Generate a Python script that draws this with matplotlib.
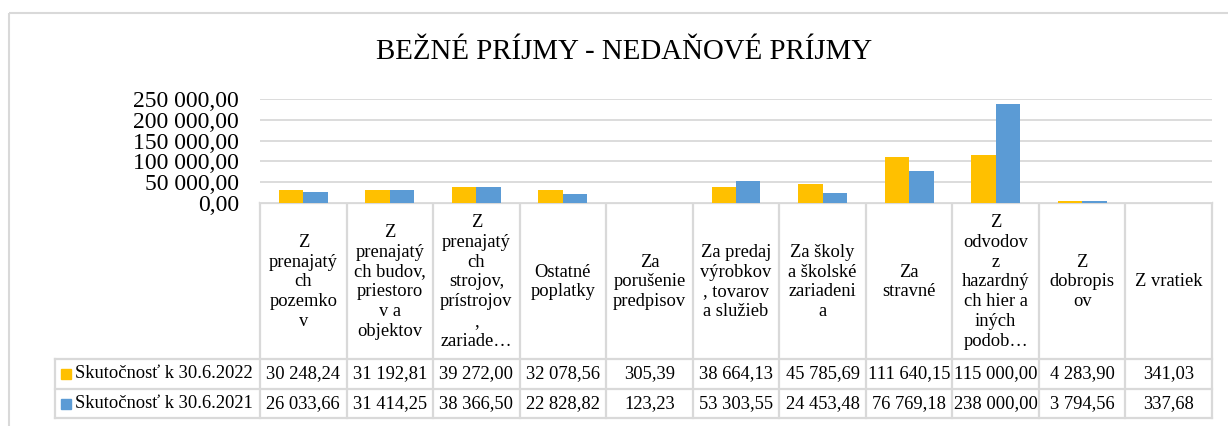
import numpy as np
import matplotlib.pyplot as plt
from matplotlib.patches import Rectangle

plt.rcParams['font.family'] = ['Liberation Serif', 'DejaVu Serif']

title = "BEŽNÉ PRÍJMY - NEDAŇOVÉ PRÍJMY"
categories = [
    "Z\nprenajatý\nch\npozemko\nv",
    "Z\nprenajatý\nch budov,\npriestoro\nv a\nobjektov",
    "Z\nprenajatý\nch\nstrojov,\nprístrojov\n,\nzariade…",
    "Ostatné\npoplatky",
    "Za\nporušenie\npredpisov",
    "Za predaj\nvýrobkov\n, tovarov\na služieb",
    "Za školy\na školské\nzariadeni\na",
    "Za\nstravné",
    "Z\nodvodov\nz\nhazardný\nch hier a\niných\npodob…",
    "Z\ndobropis\nov",
    "Z vratiek",
]
series_names = ["Skutočnosť k 30.6.2022", "Skutočnosť k 30.6.2021"]
values_2022 = [30248.24, 31192.81, 39272.00, 32078.56, 305.39, 38664.13,
               45785.69, 111640.15, 115000.00, 4283.90, 341.03]
values_2021 = [26033.66, 31414.25, 38366.50, 22828.82, 123.23, 53303.55,
               24453.48, 76769.18, 238000.00, 3794.56, 337.68]
y_ticks = [0, 50000, 100000, 150000, 200000, 250000]
colors = ['#FFC000', '#5B9BD5']


def fmt(v):
    return '{:,.2f}'.format(v).replace(',', ' ').replace('.', ',')


W, H = 1228, 426
fig = plt.figure(figsize=(W / 100, H / 100), dpi=100)

# layout in pixels
plot_l, plot_r, plot_t, plot_b = 260, 1212, 99, 203
row1, row2, tab_b = 359, 389, 418
leg_l = 55
grid_c = '#d9d9d9'
n = len(categories)
cw = (plot_r - plot_l) / n

ax = fig.add_axes([plot_l / W, 1 - plot_b / H, (plot_r - plot_l) / W, (plot_b - plot_t) / H])
x = np.arange(n) + 0.5
bw = 0.283
ax.bar(x - bw / 2, values_2022, bw, color=colors[0], zorder=3)
ax.bar(x + bw / 2, values_2021, bw, color=colors[1], zorder=3)
ax.set_xlim(0, n)
ax.set_ylim(0, 250000)
ax.set_yticks(y_ticks)
ax.set_yticklabels([fmt(v) for v in y_ticks], fontsize=17)
ax.set_xticks([])
ax.tick_params(axis='y', length=0, pad=15)
ax.yaxis.grid(True, color=grid_c, lw=1.3)
ax.set_axisbelow(True)
for s in ax.spines.values():
    s.set_visible(False)

# overlay in pixel coordinates for table, border and title
ov = fig.add_axes([0, 0, 1, 1], zorder=-1)
ov.set_xlim(0, W)
ov.set_ylim(H, 0)
ov.axis('off')

ov.add_patch(Rectangle((8.5, 12.5), 1300, 500, fill=False, ec=grid_c, lw=1.5))
ov.text(624.5, 52, title, ha='center', va='center', fontsize=20.8)

lk = dict(color=grid_c, lw=1.6)
ov.plot([plot_l, plot_r], [plot_b, plot_b], **lk)
for yy in (row1, row2, tab_b):
    ov.plot([leg_l, plot_r], [yy, yy], **lk)
ov.plot([leg_l, leg_l], [row1, tab_b], **lk)
for i in range(n + 1):
    xx = plot_l + i * cw
    ov.plot([xx, xx], [plot_b, tab_b], **lk)

for i, lab in enumerate(categories):
    cx = plot_l + (i + 0.5) * cw
    ov.text(cx, (plot_b + row1) / 2 + 1, lab, ha='center', va='center',
            fontsize=13.3, linespacing=1.22)
    ov.text(cx, (row1 + row2) / 2, fmt(values_2022[i]), ha='center', va='center', fontsize=13.3)
    ov.text(cx, (row2 + tab_b) / 2, fmt(values_2021[i]), ha='center', va='center', fontsize=13.3)

for j, (name, yc) in enumerate(zip(series_names, [(row1 + row2) / 2, (row2 + tab_b) / 2])):
    ov.add_patch(Rectangle((61, yc - 5), 10, 10, color=colors[j]))
    ov.text(75, yc, name, ha='left', va='center', fontsize=13.3)

fig.savefig('out.png', dpi=100)
